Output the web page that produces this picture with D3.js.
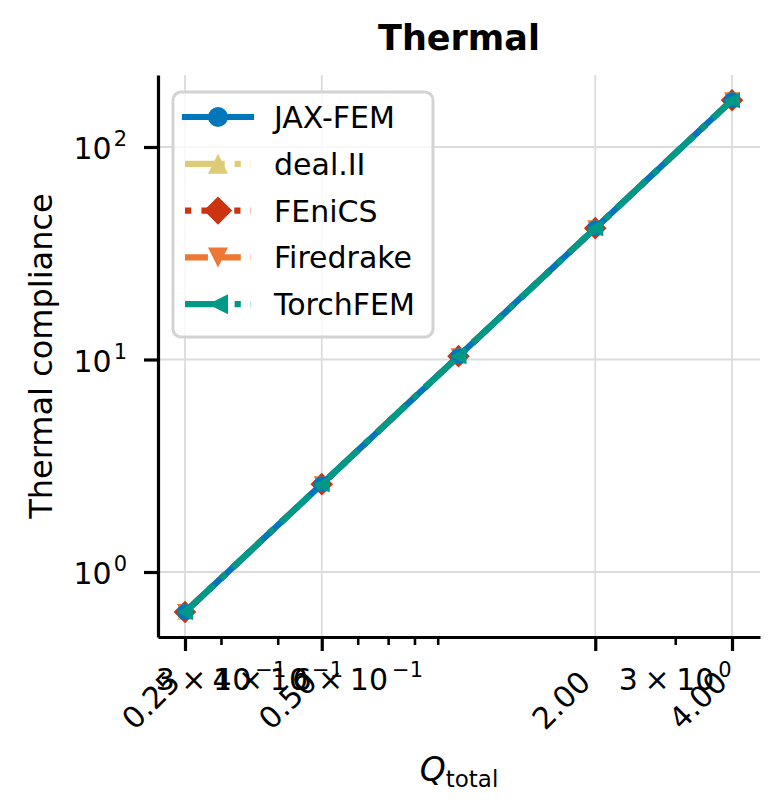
<!DOCTYPE html>
<html>
<head>
<meta charset="utf-8">
<script src="https://cdn.jsdelivr.net/npm/d3@7"></script>
<style>
  html, body { margin: 0; padding: 0; background: #fff; }
  svg { display: block; font-family: "DejaVu Sans", sans-serif; }
</style>
</head>
<body>
<svg id="chart" width="783" height="811"></svg>
<script>
// ---------------- data ----------------
const qTotal = [0.25, 0.5, 1, 2, 4];
const seriesNames = ["JAX-FEM", "deal.II", "FEniCS", "Firedrake", "TorchFEM"];
const jaxFem    = [0.648, 2.59, 10.37, 41.5, 166];
const dealII    = [0.648, 2.59, 10.37, 41.5, 166];
const fenics    = [0.648, 2.59, 10.37, 41.5, 166];
const firedrake = [0.648, 2.59, 10.37, 41.5, 166];
const torchFem  = [0.648, 2.59, 10.37, 41.5, 166];
const seriesColors = ["#0077BB", "#DDCC77", "#CC3311", "#EE7733", "#009988"];
const seriesMarkers = ["circle", "triUp", "diamond", "triDown", "triLeft"];
const seriesDash = ["solid", "dashdot", "dotted", "dashed", "dashdot"];
const drawOrder = [1, 2, 3, 0, 4];

const xMajorTicks = [0.25, 0.5, 2, 4];
const xMajorLabels = ["0.25", "0.50", "2.00", "4.00"];
const xMinorTicks = [0.3, 0.4, 0.6, 0.7, 0.8, 0.9, 3];
const xMinorLabelTicks = [0.3, 0.4, 0.6, 3];
const xMinorMantissa = ["3", "4", "6", "3"];
const xMinorExponent = ["\u22121", "\u22121", "\u22121", "0"];
const yMajorTicks = [1, 10, 100];
const yMajorExponent = ["0", "1", "2"];

const titleText = "Thermal";
const yLabelText = "Thermal compliance";

// ---------------- layout ----------------
const svg = d3.select("#chart");
const L = 158, R = 760, T = 75, B = 637;
const fs = 30;       // tick / legend font size (px)
const lw = 6.2;      // data line width

const x = d3.scaleLog().domain([0.25, 4]).range([185, 732]);
x.domain([x.invert(L), x.invert(R)]).range([L, R]);
const y = d3.scaleLog().domain([1, 100]).range([572, 147]);
y.domain([y.invert(B), y.invert(T)]).range([B, T]);

// ---------------- grid ----------------
const grid = svg.append("g");
grid.selectAll("line.gx").data(xMajorTicks).join("line")
  .attr("x1", d => x(d)).attr("x2", d => x(d))
  .attr("y1", T).attr("y2", B)
  .attr("stroke", "#dcdcdc").attr("stroke-width", 1.8);
grid.selectAll("line.gy").data(yMajorTicks).join("line")
  .attr("y1", d => y(d)).attr("y2", d => y(d))
  .attr("x1", L).attr("x2", R)
  .attr("stroke", "#dcdcdc").attr("stroke-width", 1.8);

// ---------------- series ----------------
const allSeries = [jaxFem, dealII, fenics, firedrake, torchFem];
function dashArray(kind) {
  if (kind === "dashed") return [3.7 * lw, 1.6 * lw].join(",");
  if (kind === "dashdot") return [6.4 * lw, 1.6 * lw, 1 * lw, 1.6 * lw].join(",");
  if (kind === "dotted") return [1 * lw, 1.65 * lw].join(",");
  return null;
}
function markerPath(kind, s) {
  const h = s / 2;
  if (kind === "circle") return d3.symbol(d3.symbolCircle, Math.PI * h * h)();
  if (kind === "diamond") { const a = h * 1.414; return `M0,${-a}L${a},0L0,${a}L${-a},0Z`; }
  if (kind === "triUp") return `M0,${-h}L${h},${h}L${-h},${h}Z`;
  if (kind === "triDown") return `M0,${h}L${h},${-h}L${-h},${-h}Z`;
  if (kind === "triLeft") return `M${-h},0L${h},${-h}L${h},${h}Z`;
}
const line = d3.line().x(d => x(d[0])).y(d => y(d[1]));
const plot = svg.append("g");
drawOrder.forEach(i => {
  const vals = allSeries[i];
  const pts = qTotal.map((q, k) => [q, vals[k]]);
  const g = plot.append("g");
  g.append("path").attr("d", line(pts))
    .attr("fill", "none").attr("stroke", seriesColors[i])
    .attr("stroke-width", lw)
    .attr("stroke-linecap", seriesDash[i] === "solid" ? "square" : "butt")
    .attr("stroke-dasharray", dashArray(seriesDash[i]));
  g.selectAll("path.m").data(pts).join("path")
    .attr("transform", d => `translate(${x(d[0])},${y(d[1])})`)
    .attr("d", markerPath(seriesMarkers[i], 16))
    .attr("fill", seriesColors[i]);
});

// ---------------- axes ----------------
const xAxisMajor = d3.axisBottom(x).tickValues(xMajorTicks).tickFormat("").tickSize(14).tickSizeOuter(0);
const xAxisMinor = d3.axisBottom(x).tickValues(xMinorTicks).tickFormat("").tickSize(8).tickSizeOuter(0);
const yAxis = d3.axisLeft(y).tickValues(yMajorTicks).tickFormat("").tickSize(14).tickSizeOuter(0);

const gxm = svg.append("g").attr("transform", `translate(0,${B})`).call(xAxisMinor);
gxm.select(".domain").remove();
gxm.selectAll(".tick line").attr("stroke", "#000").attr("stroke-width", 2.6);
const gx = svg.append("g").attr("transform", `translate(0,${B})`).call(xAxisMajor);
gx.selectAll(".tick line").attr("stroke", "#000").attr("stroke-width", 3.2);
gx.select(".domain").attr("stroke", "#000").attr("stroke-width", 3.2);
const gy = svg.append("g").attr("transform", `translate(${L},0)`).call(yAxis);
gy.selectAll(".tick line").attr("stroke", "#000").attr("stroke-width", 3.2);
gy.select(".domain").attr("stroke", "#000").attr("stroke-width", 3.2);

// y tick labels 10^n
const ylab = svg.append("g").attr("font-size", fs).attr("fill", "#000");
yMajorTicks.forEach((v, i) => {
  const t = ylab.append("text").attr("x", 127).attr("y", y(v) + 12).attr("text-anchor", "end");
  t.append("tspan").text("10");
  t.append("tspan").attr("dx", 2).attr("dy", -13).attr("font-size", fs * 0.7).text(yMajorExponent[i]);
});

// x minor tick labels  m × 10^e
const xlabMin = svg.append("g").attr("font-size", fs).attr("fill", "#000");
xMinorLabelTicks.forEach((v, i) => {
  const t = xlabMin.append("text").attr("x", x(v)).attr("y", 690).attr("text-anchor", "middle");
  t.append("tspan").text(xMinorMantissa[i]);
  t.append("tspan").attr("dx", fs * 0.22).text("\u00d7");
  t.append("tspan").attr("dx", fs * 0.22).text("10");
  t.append("tspan").attr("dx", 4).attr("dy", -13).attr("font-size", fs * 0.7).text(xMinorExponent[i]);
});

// x major tick labels rotated 45°, right aligned
const xlabMaj = svg.append("g").attr("font-size", fs).attr("fill", "#000");
const topY = B + 14 + 17;
xMajorTicks.forEach((v, i) => {
  const ax = x(v) + 2 - 0.24 * fs / Math.SQRT2;
  const ay = topY + 0.76 * fs / Math.SQRT2;
  xlabMaj.append("text")
    .attr("transform", `translate(${ax},${ay}) rotate(-45)`)
    .attr("text-anchor", "end")
    .text(xMajorLabels[i]);
});

// ---------------- labels ----------------
svg.append("text").attr("x", (L + R) / 2).attr("y", 50)
  .attr("text-anchor", "middle").attr("font-size", 35).attr("font-weight", "bold")
  .text(titleText);

const xl = svg.append("text").attr("x", (L + R) / 2).attr("y", 781)
  .attr("text-anchor", "middle").attr("font-size", 33);
xl.append("tspan").attr("font-style", "italic").text("Q");
xl.append("tspan").attr("dy", 6).attr("font-size", 23).text("total");

svg.append("text")
  .attr("transform", `translate(52,${(T + B) / 2}) rotate(-90)`)
  .attr("text-anchor", "middle").attr("font-size", 32)
  .text(yLabelText);

// ---------------- legend ----------------
const leg = svg.append("g");
leg.append("rect").attr("x", 173).attr("y", 92).attr("width", 260).attr("height", 245)
  .attr("rx", 8).attr("fill", "#fff").attr("fill-opacity", 0.8)
  .attr("stroke", "#d3d3d3").attr("stroke-width", 3);
seriesNames.forEach((name, i) => {
  const cy = 117 + i * 46.8;
  leg.append("path").attr("d", `M185,${cy}H251`)
    .attr("stroke", seriesColors[i]).attr("stroke-width", lw).attr("fill", "none")
    .attr("stroke-linecap", seriesDash[i] === "solid" ? "square" : "butt")
    .attr("stroke-dasharray", dashArray(seriesDash[i]));
  leg.append("path").attr("transform", `translate(218,${cy})`)
    .attr("d", markerPath(seriesMarkers[i], 20)).attr("fill", seriesColors[i]);
  leg.append("text").attr("x", 274).attr("y", cy + 11).attr("font-size", fs).text(name);
});
</script>
</body>
</html>
